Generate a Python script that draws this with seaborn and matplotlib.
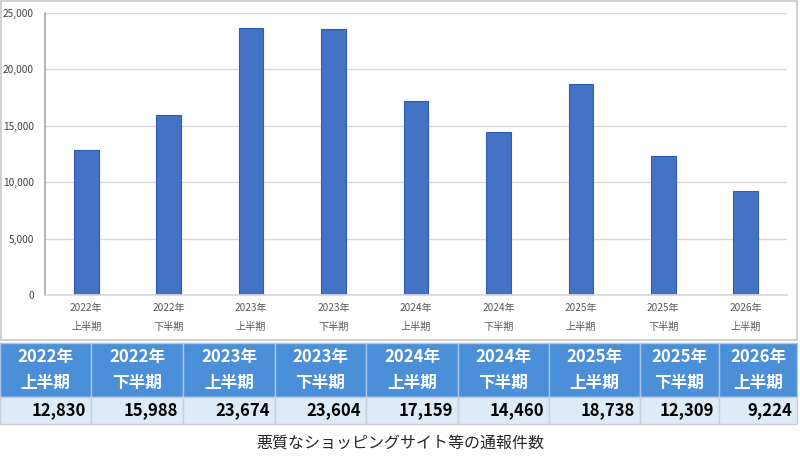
import matplotlib.pyplot as plt
import matplotlib.patches as mpatches
import seaborn as sns
import pandas as pd
import numpy as np

# データ
years = ["2022年", "2022年", "2023年", "2023年", "2024年", "2024年", "2025年", "2025年", "2026年"]
halves = ["上半期", "下半期", "上半期", "下半期", "上半期", "下半期", "上半期", "下半期", "上半期"]
counts = [12830, 15988, 23674, 23604, 17159, 14460, 18738, 12309, 9224]
col_edges = [0, 91, 183, 275, 366, 458, 549, 640, 719, 797]  # 表の列の境界(px)

sns.set_theme(style="white")
plt.rcParams['font.family'] = ['Noto Sans CJK JP', 'DejaVu Sans']

labels = [f"{y}\n{h}" for y, h in zip(years, halves)]
df = pd.DataFrame({"期間": labels, "件数": counts})

fig = plt.figure(figsize=(8, 4.66), dpi=100)
W, H = 800, 466

# グラフ枠
fig.patches.append(mpatches.Rectangle((1 / W, 1 - 340 / H), 796 / W, 339 / H,
                                      transform=fig.transFigure, fill=False,
                                      edgecolor="#c8c8c8", linewidth=1.2))

ax = fig.add_axes([45 / W, 171 / H, 742 / W, 282 / H])
sns.barplot(data=df, x="期間", y="件数", ax=ax, color="#4472c4", width=0.3,
            edgecolor="#2f5bb7", linewidth=0.8, saturation=1)
ax.set_ylim(0, 25000)
ax.set_yticks(np.arange(0, 25001, 5000))
ax.set_yticklabels([f"{v:,}" for v in range(0, 25001, 5000)], fontsize=7.3, color="#404040")
ax.tick_params(axis="x", labelsize=7.3, colors="#595959", length=0, pad=6)
ax.tick_params(axis="y", length=0, pad=8)
ax.yaxis.grid(True, color="#d9d9d9", linewidth=1)
ax.set_axisbelow(True)
ax.set_xlabel("")
ax.set_ylabel("")
for s in ["top", "right"]:
    ax.spines[s].set_visible(False)
ax.spines["bottom"].set_color("#d9d9d9")
ax.spines["left"].set_color("#a6a6a6")
ax.spines["left"].set_linewidth(1.2)
for t in ax.get_xticklabels():
    t.set_linespacing(2.0)

# 表
tab = fig.add_axes([0, 0, 1, 1])
tab.set_xlim(0, W)
tab.set_ylim(H, 0)
tab.axis("off")
top, mid, bot = 343, 397, 424
for i in range(len(counts)):
    x0, x1 = col_edges[i], col_edges[i + 1]
    tab.add_patch(mpatches.Rectangle((x0, top), x1 - x0, mid - top, facecolor="#4a8fd8",
                                     edgecolor="#a9c6ea", linewidth=1))
    tab.add_patch(mpatches.Rectangle((x0, mid), x1 - x0, bot - mid, facecolor="#ddebf7",
                                     edgecolor="#c6cfd8", linewidth=1))
    cx = (x0 + x1) / 2
    tab.text(cx, top + 14, years[i], ha="center", va="center", color="white",
             fontsize=12, fontweight="bold")
    tab.text(cx, top + 40, halves[i], ha="center", va="center", color="white",
             fontsize=12, fontweight="bold")
    tab.text(x1 - 5, (mid + bot) / 2, f"{counts[i]:,}", ha="right", va="center",
             color="black", fontsize=12, fontweight="bold")

tab.text(400, 443, "悪質なショッピングサイト等の通報件数", ha="center", va="center",
         fontsize=11.5, color="#262626")

fig.savefig("out.png", dpi=100)
